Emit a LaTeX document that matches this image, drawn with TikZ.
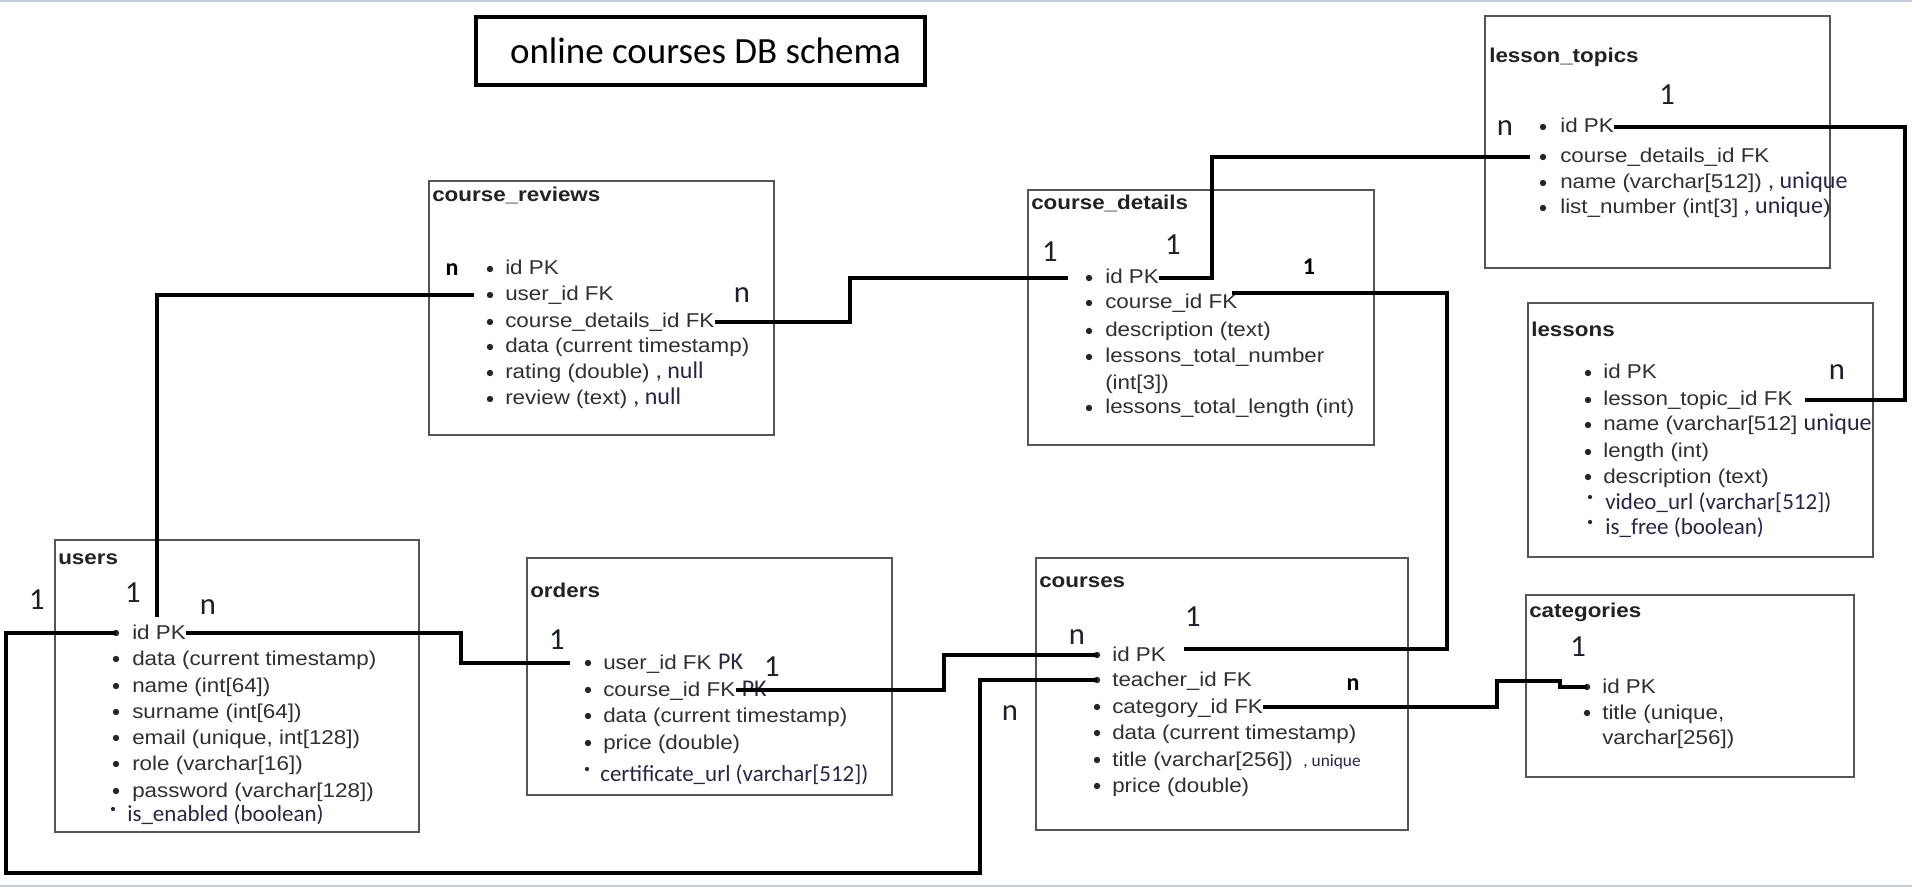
\documentclass[tikz,border=0pt]{standalone}
\usepackage{fontspec}
\setmainfont{Liberation Sans}
\newfontfamily\arialf[FakeStretch=1.12]{Liberation Sans}
\newfontfamily\calf{Carlito}
\usetikzlibrary{calc,fit}
\definecolor{txt}{RGB}{48,48,48}
\definecolor{navy}{RGB}{40,38,70}
\definecolor{boxc}{RGB}{85,85,85}
\definecolor{lbl}{RGB}{28,32,45}
\definecolor{edgec}{RGB}{195,205,220}
\newcommand\calpart[1]{{\calf\fontsize{18}{20}\selectfont\color{navy}#1}}
\newcommand\smallcal[1]{{\calf\fontsize{13}{16}\selectfont\color{navy}#1}}
\newcommand\trow[5]{\node[bul] (#1b) at (#2,#4) {}; \node[rowtxt] (#1) at (#3,#4) {#5};}
\newcommand\crow[5]{\node[sbul] (#1b) at (#2,#4-6) {}; \node[calrow] (#1) at (#3,#4) {#5};}
\begin{document}
\begin{tikzpicture}[x=0.75pt,y=-0.75pt,
  tbl/.style={draw=boxc, line width=1.2pt, inner sep=0pt},
  tblname/.style={anchor=west, inner sep=0pt, font=\arialf\bfseries\fontsize{15}{18}\selectfont, text=txt!70!black},
  rowtxt/.style={anchor=west, inner sep=0pt, font=\arialf\fontsize{15}{18}\selectfont, text=txt, text height=10.5pt, text depth=1.5pt},
  calrow/.style={rowtxt, font=\calf\fontsize{17.25}{20}\selectfont, text=navy},
  bul/.style={circle, fill=txt!80!black, inner sep=0pt, minimum size=4.8pt},
  sbul/.style={circle, fill=navy, inner sep=0pt, minimum size=3.2pt},
  conn/.style={draw=black, line width=3.5pt},
  card/.style={inner sep=0pt, font=\calf\fontsize{23}{24}\selectfont, text=lbl},
  cardb/.style={inner sep=0pt, font=\calf\bfseries\fontsize{18}{20}\selectfont, text=black},
  titlebox/.style={draw=black, line width=3pt, minimum width=336.75pt, minimum height=51pt, inner sep=0pt, font=\calf\fontsize{27.75}{30}\selectfont, text=black}
]
\useasboundingbox (0,0) rectangle (1912,887);
\fill[white] (0,0) rectangle (1912,887);
\draw[edgec, line width=1.2pt] (0,1) -- (1912,1);
\draw[edgec, line width=1.2pt] (0,886) -- (1912,886);

% title
\node[titlebox] (title) at (700.5,51) {\hspace*{7.5pt}online courses DB schema};

% tables
\node[tbl, fit={(55,540) (419,832)}] (users) {};
\node[tbl, fit={(429,181) (774,435)}] (reviews) {};
\node[tbl, fit={(1028,190) (1374,445)}] (details) {};
\node[tbl, fit={(1485,16) (1830,268)}] (topics) {};
\node[tbl, fit={(1528,303) (1873,557)}] (lessons) {};
\node[tbl, fit={(527,558) (892,795)}] (orders) {};
\node[tbl, fit={(1036,558) (1408,830)}] (courses) {};
\node[tbl, fit={(1526,595) (1854,777)}] (categories) {};

\node[tblname] (users-t) at (58,559) {users};
\node[tblname] (reviews-t) at (432,195) {course\_reviews};
\node[tblname] (details-t) at (1031,203) {course\_details};
\node[tblname] (topics-t) at (1489,57) {lesson\_topics};
\node[tblname] (lessons-t) at (1531,329) {lessons};
\node[tblname] (orders-t) at (530,590) {orders};
\node[tblname] (courses-t) at (1039,582) {courses};
\node[tblname] (categories-t) at (1529,612) {categories};

% users
\trow{u1}{116}{132}{633}{id PK}
\trow{u2}{116}{132}{659}{data (current timestamp)}
\trow{u3}{116}{132}{686}{name (int[64])}
\trow{u4}{116}{132}{712}{surname (int[64])}
\trow{u5}{116}{132}{738}{email (unique, int[128])}
\trow{u6}{116}{132}{764}{role (varchar[16])}
\trow{u7}{116}{132}{791}{password (varchar[128])}
\crow{u8}{113}{127}{815}{is\_enabled (boolean)}

% course_reviews
\trow{r1}{490}{505}{269}{id PK}
\trow{r2}{490}{505}{295}{user\_id FK}
\trow{r3}{490}{505}{322}{course\_details\_id FK}
\trow{r4}{490}{505}{347}{data (current timestamp)}
\trow{r5}{490}{505}{373}{rating (double) \calpart{, null}}
\trow{r6}{490}{505}{399}{review (text) \calpart{, null}}

% course_details
\trow{d1}{1089}{1105}{278}{id PK}
\trow{d2}{1089}{1105}{303}{course\_id FK}
\trow{d3}{1089}{1105}{331}{description (text)}
\trow{d4}{1089}{1105}{357}{lessons\_total\_number}
\node[rowtxt] (d4c) at (1105,384) {(int[3])};
\trow{d5}{1089}{1105}{408}{lessons\_total\_length (int)}

% lesson_topics
\trow{t1}{1543}{1560}{127}{id PK}
\trow{t2}{1543}{1560}{157}{course\_details\_id FK}
\trow{t3}{1543}{1560}{183}{name (varchar[512]) \calpart{, unique}}
\trow{t4}{1543}{1560}{208}{list\_number (int[3]\calpart{\ , unique})}

% lessons
\trow{l1}{1588}{1603}{373}{id PK}
\trow{l2}{1588}{1603}{400}{lesson\_topic\_id FK}
\trow{l3}{1588}{1603}{425}{name (varchar[512] \calpart{unique}}
\trow{l4}{1588}{1603}{452}{length (int)}
\trow{l5}{1588}{1603}{477}{description (text)}
\crow{l6}{1590}{1605}{503}{video\_url (varchar[512])}
\crow{l7}{1590}{1605}{528}{is\_free (boolean)}

% orders
\trow{o1}{588}{603}{663}{user\_id FK}
\node[rowtxt, font=\calf\fontsize{18}{20}\selectfont, text=navy] (o1pk) at ($(o1.east)+(6,0)$) {PK};
\trow{o2}{588}{603}{690}{course\_id FK}
\node[rowtxt, font=\calf\fontsize{18}{20}\selectfont, text=navy] (o2pk) at ($(o2.east)+(6,0)$) {PK};
\trow{o3}{588}{603}{716}{data (current timestamp)}
\trow{o4}{588}{603}{743}{price (double)}
\crow{o5}{587}{600}{775}{certificate\_url (varchar[512])}

% courses
\trow{c1}{1097}{1112}{655}{id PK}
\trow{c2}{1097}{1112}{680}{teacher\_id FK}
\trow{c3}{1097}{1112}{707}{category\_id FK}
\trow{c4}{1097}{1112}{733}{data (current timestamp)}
\trow{c5}{1097}{1112}{760}{title (varchar[256])\hspace{8pt}\smallcal{, unique}}
\trow{c6}{1097}{1112}{786}{price (double)}

% categories
\trow{g1}{1587}{1602}{687}{id PK}
\trow{g2}{1587}{1602}{713}{title (unique,}
\node[rowtxt] (g2c) at (1602,738) {varchar[256])};

% connectors
\coordinate (u1top) at (157,617);
\draw[conn] (u1top) |- ($(r2b.west)+(-13,0)$);
\draw[conn] (u1.east) -| (461,650) |- ($(o1b.west)+(-15,0)$);
\draw[conn] (r3.east) -| (850,300) |- ($(d1b.west)+(-18,0)$);
\draw[conn] (d1.east) -| (1212,200) |- ($(t2b.west)+(-10,0)$);
\draw[conn] ($(d2.east)+(-6,-10)$) -| (1447,500) |- ($(c1.east)+(18,-6)$);
\draw[conn] (o2.east) -| (944,670) |- (c1b.center);
\draw[conn] (c3.east) -| (1497,695) |- (1560,681) |- (g1b.center);
\draw[conn] (t1.east) -| (1905,250) |- ($(l2.east)+(12,0)$);
\draw[conn] (u1b.center) -| (6,873) -| (980,780) |- (c2b.center);

% cardinalities
\node[card] (k1) at (37,600) {1};
\node[card] (k2) at (133,593) {1};
\node[card] (k3) at (208,607) {n};
\node[card] (k4) at (557,640) {1};
\node[card] (k5) at (772,667) {1};
\node[card] (k6) at (742,295) {n};
\node[card] (k7) at (1050,252) {1};
\node[card] (k8) at (1173,245) {1};
\node[card] (k9) at (1505,128) {n};
\node[card] (k10) at (1667,95) {1};
\node[card] (k11) at (1837,372) {n};
\node[card] (k12) at (1077,637) {n};
\node[card] (k13) at (1193,617) {1};
\node[card] (k14) at (1010,713) {n};
\node[card] (k15) at (1578,647) {1};
\node[cardb] (k16) at (452,270) {n};
\node[cardb] (k17) at (1309,267) {1};
\node[cardb] (k18) at (1353,685) {n};
\end{tikzpicture}
\end{document}
